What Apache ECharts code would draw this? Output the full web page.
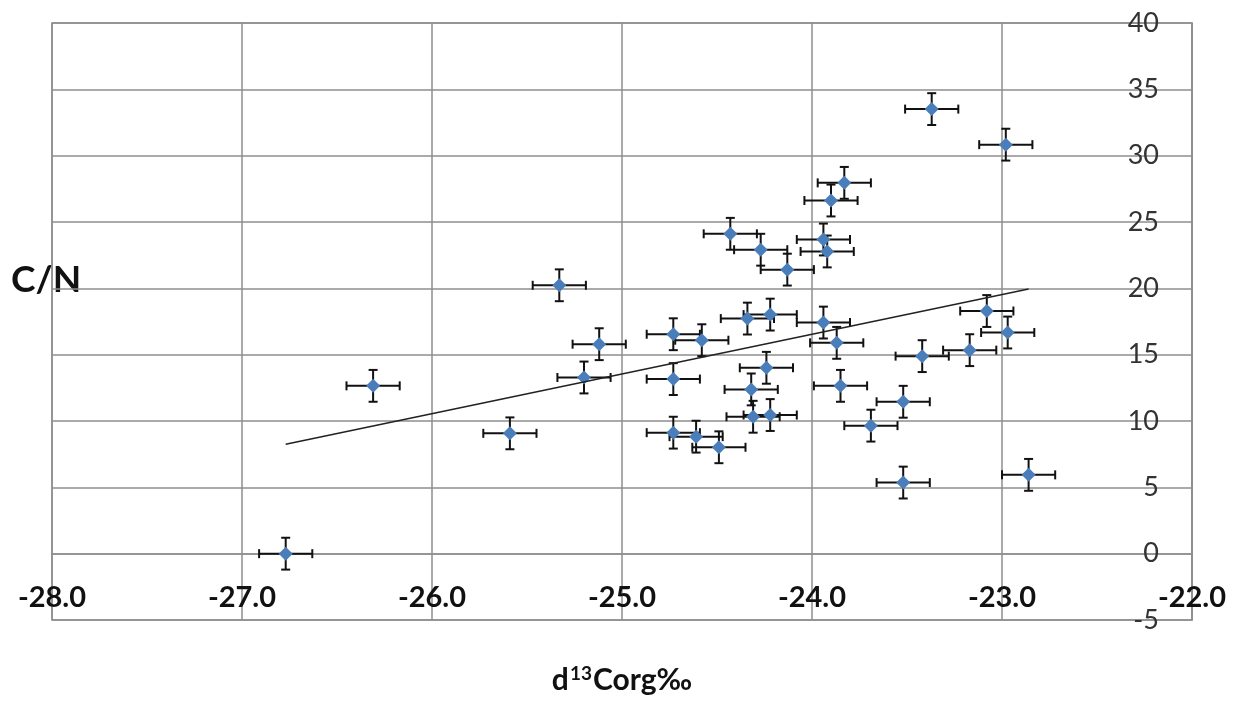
<!DOCTYPE html>
<html>
<head>
<meta charset="utf-8">
<title>C/N vs d13Corg</title>
<script src="https://cdn.jsdelivr.net/npm/echarts@6/dist/echarts.min.js"></script>
<style>
  html, body { margin: 0; padding: 0; background: #fff; }
  #chart { width: 1237px; height: 702px; }
</style>
</head>
<body>
<div id="chart"></div>
<script>
// Stable carbon isotope of organic carbon (per mil) for each sample
const d13Corg = [
  -26.77, -26.31, -25.59, -25.33, -25.12, -25.20, -24.73, -24.58, -24.73, -24.73,
  -24.61, -24.49, -24.43, -24.27, -24.13, -23.94, -23.92, -23.83, -23.90, -24.34,
  -24.22, -23.94, -23.87, -24.24, -24.32, -23.85, -24.31, -24.22, -23.69, -23.08,
  -22.97, -23.42, -23.17, -23.52, -23.52, -22.86, -23.37, -22.98
];
// Carbon / nitrogen ratio for the same samples
const cnRatio = [
  0.0, 12.65, 9.07, 20.23, 15.79, 13.28, 16.54, 16.09, 13.16, 9.12,
  8.82, 8.02, 24.11, 22.91, 21.41, 23.68, 22.78, 27.95, 26.62, 17.72,
  18.02, 17.42, 15.89, 14.01, 12.38, 12.65, 10.32, 10.45, 9.65, 18.29,
  16.67, 14.89, 15.34, 11.45, 5.36, 5.94, 33.51, 30.83
];
// Analytical uncertainty (half-width of the error bars)
const d13CorgError = 0.14;
const cnError = 1.2;

// Axis ranges
const xRange = { min: -28, max: -22, step: 1 };
const yRange = { min: -5, max: 40, step: 5 };

const FONT = 'Lato, "Open Sans", "Noto Sans", sans-serif';

const points = d13Corg.map((x, i) => [x, cnRatio[i]]);
const errorData = d13Corg.map((x, i) => [x, cnRatio[i], d13CorgError, cnError]);

// Least-squares linear trend over the data span
function linearFit(xs, ys) {
  const n = xs.length;
  const mx = xs.reduce((a, b) => a + b, 0) / n;
  const my = ys.reduce((a, b) => a + b, 0) / n;
  let sxy = 0, sxx = 0;
  for (let i = 0; i < n; i++) {
    sxy += (xs[i] - mx) * (ys[i] - my);
    sxx += (xs[i] - mx) * (xs[i] - mx);
  }
  const slope = sxy / sxx;
  return { slope: slope, intercept: my - slope * mx };
}
const fit = linearFit(d13Corg, cnRatio);
const xLo = Math.min.apply(null, d13Corg);
const xHi = Math.max.apply(null, d13Corg);
const trend = [
  [xLo, fit.intercept + fit.slope * xLo],
  [xHi, fit.intercept + fit.slope * xHi]
];

const gridColor = '#8e8e8e';

function renderErrorBars(params, api) {
  const x = api.value(0), y = api.value(1);
  const ex = api.value(2), ey = api.value(3);
  const l = api.coord([x - ex, y]);
  const r = api.coord([x + ex, y]);
  const t = api.coord([x, y + ey]);
  const b = api.coord([x, y - ey]);
  const cap = 4.5;
  const style = { stroke: '#111', lineWidth: 2 };
  const seg = (x1, y1, x2, y2) => ({ type: 'line', shape: { x1, y1, x2, y2 }, style });
  return {
    type: 'group',
    children: [
      seg(l[0], l[1], r[0], r[1]),
      seg(l[0], l[1] - cap, l[0], l[1] + cap),
      seg(r[0], r[1] - cap, r[0], r[1] + cap),
      seg(t[0], t[1], b[0], b[1]),
      seg(t[0] - cap, t[1], t[0] + cap, t[1]),
      seg(b[0] - cap, b[1], b[0] + cap, b[1])
    ]
  };
}

const chart = echarts.init(document.getElementById('chart'), null, { renderer: 'canvas' });

chart.setOption({
  animation: false,
  backgroundColor: '#fff',
  grid: {
    left: 52, right: 45, top: 23, bottom: 82,
    containLabel: false,
    outerBoundsMode: 'none',
    show: true,
    borderColor: gridColor,
    borderWidth: 1.5
  },
  graphic: [{
    type: 'text',
    left: 11,
    top: 262,
    style: { text: 'C/N', font: 'bold 37px ' + FONT, fill: '#111' }
  }],
  xAxis: {
    type: 'value',
    min: xRange.min, max: xRange.max, interval: xRange.step,
    position: 'bottom',
    axisLine: { show: true, lineStyle: { color: gridColor, width: 1.5 } },
    axisTick: { show: false },
    splitLine: { show: true, lineStyle: { color: gridColor, width: 1.5 } },
    axisLabel: {
      inside: true,
      margin: 8,
      showMinLabel: true, showMaxLabel: true,
      formatter: v => v.toFixed(1),
      fontFamily: FONT, fontSize: 29, fontWeight: 'bold', color: '#111'
    },
    name: '{b|d}{sup|13}{b|Corg‰}',
    nameLocation: 'middle',
    nameGap: 44,
    nameTextStyle: {
      rich: {
        b: { fontFamily: FONT, fontSize: 30, fontWeight: 'bold', color: '#111' },
        sup: { fontFamily: FONT, fontSize: 19, fontWeight: 'bold', color: '#111', padding: [0, 1, 13, 1] }
      }
    }
  },
  yAxis: {
    type: 'value',
    min: yRange.min, max: yRange.max, interval: yRange.step,
    position: 'right',
    axisLine: { show: true, lineStyle: { color: gridColor, width: 1.5 } },
    axisTick: { show: false },
    splitLine: { show: true, lineStyle: { color: gridColor, width: 1.5 } },
    axisLabel: {
      inside: true,
      margin: 33,
      showMinLabel: true, showMaxLabel: true,
      fontFamily: FONT, fontSize: 27, color: '#333'
    }
  },
  series: [
    {
      type: 'custom',
      name: 'error',
      renderItem: renderErrorBars,
      encode: { x: 0, y: 1 },
      data: errorData,
      z: 2,
      silent: true,
      clip: false
    },
    {
      type: 'scatter',
      name: 'C/N',
      data: points,
      symbol: 'diamond',
      symbolSize: [14, 14],
      itemStyle: { color: '#4a7ebb', opacity: 1 },
      z: 3
    },
    {
      type: 'line',
      name: 'trend',
      data: trend,
      showSymbol: false,
      symbol: 'none',
      lineStyle: { color: '#222', width: 1.6 },
      z: 4,
      silent: true
    }
  ]
});
</script>
</body>
</html>
